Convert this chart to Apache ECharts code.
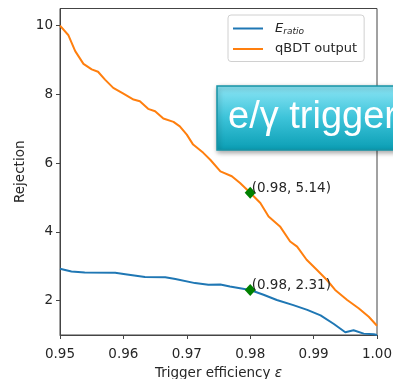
<!DOCTYPE html>
<html>
<head>
<meta charset="utf-8">
<script src="https://cdn.jsdelivr.net/npm/echarts@6/dist/echarts.min.js"></script>
<style>
html,body{margin:0;padding:0;background:#fff;}
#c{width:393px;height:379px;}
</style>
</head>
<body>
<div id="c"></div>
<script>
// Data
const effQBDT = [0.9500,0.9513,0.9524,0.9537,0.9550,0.9560,0.9571,0.9584,0.9600,0.9616,0.9626,0.9639,0.9650,0.9663,0.9679,0.9689,0.9700,0.9710,0.9726,0.9737,0.9753,0.9771,0.9784,0.9800,0.9816,0.9829,0.9847,0.9863,0.9874,0.9889,0.9905,0.9921,0.9934,0.9953,0.9971,0.9987,1.0000];
const rejQBDT = [10.00,9.73,9.26,8.89,8.73,8.66,8.43,8.19,8.02,7.85,7.80,7.58,7.51,7.30,7.20,7.07,6.83,6.54,6.30,6.10,5.76,5.62,5.42,5.14,4.84,4.45,4.16,3.72,3.57,3.19,2.90,2.60,2.31,2.02,1.78,1.53,1.27];
const effERatio = [0.9500,0.9518,0.9539,0.9587,0.9603,0.9634,0.9666,0.9682,0.9713,0.9734,0.9753,0.9768,0.9784,0.9800,0.9821,0.9842,0.9868,0.9890,0.9911,0.9932,0.9950,0.9963,0.9979,0.9995,1.0000];
const rejERatio = [2.93,2.85,2.82,2.81,2.77,2.69,2.68,2.63,2.51,2.46,2.47,2.41,2.36,2.31,2.17,2.02,1.87,1.73,1.57,1.32,1.08,1.14,1.04,1.02,1.00];
const markerEff = [0.98, 0.98];
const markerRej = [5.14, 2.31];
const xTicks = [0.95, 0.96, 0.97, 0.98, 0.99, 1.00];
const yTicks = [2, 4, 6, 8, 10];
const seriesNames = ['Eratio', 'qBDT output'];
const bannerText = 'e/γ trigger';

const zip = (a, b) => a.map((v, i) => [v, b[i]]);
const FONT = 'DejaVu Sans';
const axisCol = '#444';
const txtCol = '#262626';

const chart = echarts.init(document.getElementById('c'), null, {renderer: 'canvas'});
chart.setOption({
  animation: false,
  textStyle: {fontFamily: FONT},
  grid: {left: 60, right: 16, top: 8.5, bottom: 44, outerBoundsMode: 'none', containLabel: false,
         show: true, borderColor: axisCol, borderWidth: 1, backgroundColor: 'transparent'},
  legend: {
    data: seriesNames,
    orient: 'vertical',
    left: 228, top: 15,
    padding: [7, 7, 6, 5],
    icon: 'rect',
    itemWidth: 30, itemHeight: 2, itemGap: 6,
    backgroundColor: 'rgba(255,255,255,0.85)',
    borderColor: '#d0d0d0', borderWidth: 1, borderRadius: 3,
    textStyle: {
      fontFamily: FONT, fontSize: 13, color: txtCol, padding: [0, 0, 0, 7],
      rich: {
        e: {fontFamily: FONT, fontSize: 13, fontStyle: 'italic', color: txtCol},
        s: {fontFamily: FONT, fontSize: 9, fontStyle: 'italic', color: txtCol, padding: [7, 0, 0, 0]}
      }
    },
    formatter: n => n === 'Eratio' ? '{e|E}{s|ratio}' : n
  },
  xAxis: {
    type: 'value', min: 0.95, max: 1.0,
    name: 'Trigger efficiency {i|ε}', nameLocation: 'middle', nameGap: 31,
    nameTextStyle: {fontFamily: FONT, fontSize: 13.5, color: txtCol, rich: {i: {fontFamily: FONT, fontSize: 13.5, fontStyle: 'italic', color: txtCol}}},
    axisLine: {show: true, lineStyle: {color: axisCol, width: 1}},
    axisTick: {show: true, inside: false, length: 4, lineStyle: {color: axisCol}, customValues: xTicks},
    axisLabel: {show: true, margin: 12, fontFamily: FONT, fontSize: 13.5, color: txtCol, customValues: xTicks, formatter: v => v.toFixed(2)},
    splitLine: {show: false}
  },
  yAxis: {
    type: 'value', min: 1.0, max: 10.5,
    name: 'Rejection', nameLocation: 'middle', nameGap: 33, nameRotate: 90, nameMoveOverlap: false,
    nameTextStyle: {fontFamily: FONT, fontSize: 13.5, color: txtCol},
    axisLine: {show: true, lineStyle: {color: axisCol, width: 1}},
    axisTick: {show: true, inside: false, length: 4, lineStyle: {color: axisCol}, customValues: yTicks},
    axisLabel: {show: true, margin: 7, fontFamily: FONT, fontSize: 13.5, color: txtCol, customValues: yTicks, formatter: v => String(v)},
    splitLine: {show: false}
  },
  series: [
    {name: seriesNames[0], type: 'line', data: zip(effERatio, rejERatio), symbol: 'none', lineStyle: {color: '#1f77b4', width: 2}, itemStyle: {color: '#1f77b4'}, z: 2},
    {name: seriesNames[1], type: 'line', data: zip(effQBDT, rejQBDT), symbol: 'none', lineStyle: {color: '#ff7f0e', width: 2}, itemStyle: {color: '#ff7f0e'}, z: 2},
    {name: 'wp', type: 'scatter', data: zip(markerEff, markerRej), symbol: 'diamond', symbolSize: [11, 12],
     itemStyle: {color: '#008000', opacity: 1}, z: 3,
     label: {show: true, position: [7, 2], align: 'left', verticalAlign: 'middle', fontFamily: FONT, fontSize: 13.5, color: txtCol, opacity: 1,
       formatter: p => '(' + p.value[0].toFixed(2) + ', ' + p.value[1].toFixed(2) + ')'}}
  ],
  graphic: [
    {type: 'group', z: 100, children: [
      {type: 'rect', shape: {x: 217, y: 86, width: 190, height: 64},
       style: {fill: {type: 'linear', x: 0, y: 0, x2: 0, y2: 1, colorStops: [{offset: 0, color: '#8ee6f6'}, {offset: 0.5, color: '#3cc3d9'}, {offset: 1, color: '#0a9db3'}]},
               stroke: '#1694a6', lineWidth: 1.5, shadowBlur: 5, shadowColor: 'rgba(0,0,0,0.35)', shadowOffsetX: 1, shadowOffsetY: 2}},
      {type: 'text', x: 228, y: 118,
       style: {text: bannerText, fill: '#ffffff', font: '38px "Liberation Sans", Arial, sans-serif', verticalAlign: 'middle', align: 'left'}}
    ]}
  ]
});
</script>
</body>
</html>
